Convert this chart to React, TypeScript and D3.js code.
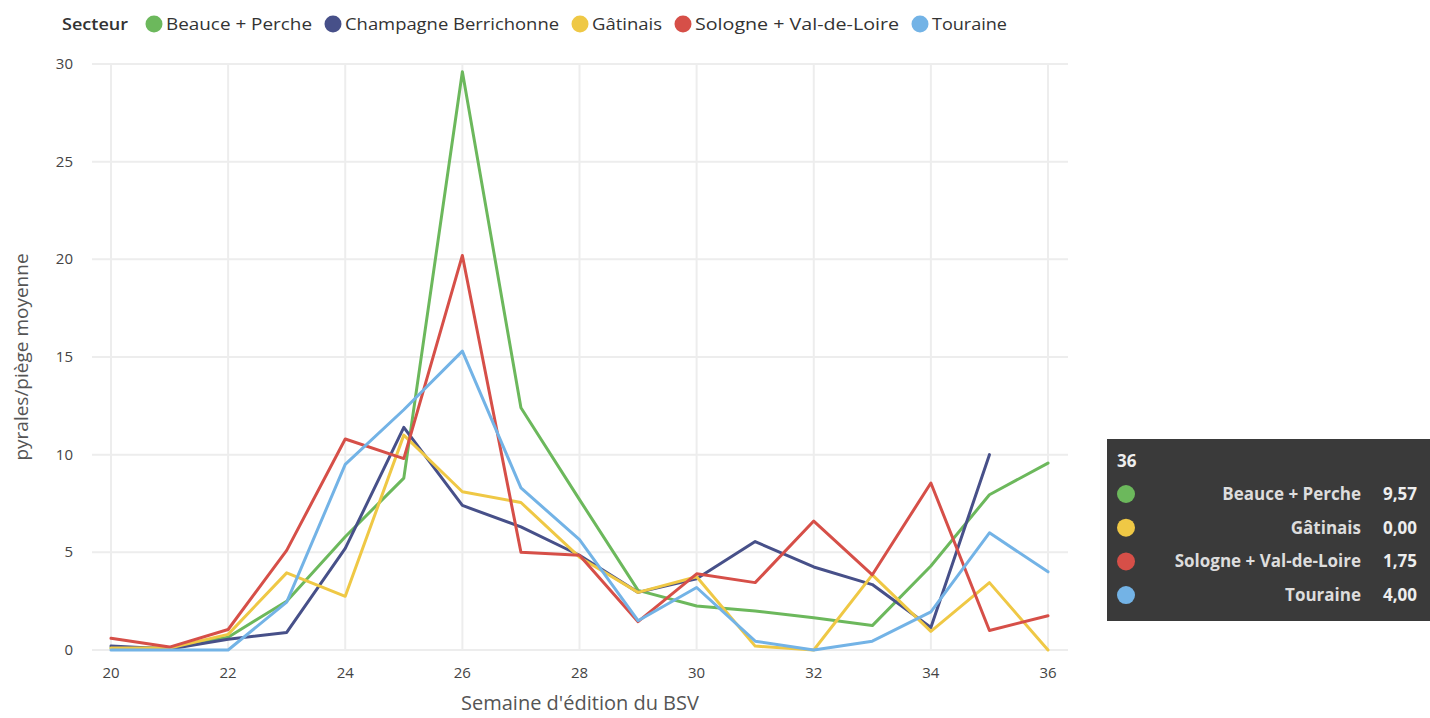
import * as d3 from "d3";
import { useRef, useEffect } from "react";

const weeks = [20, 21, 22, 23, 24, 25, 26, 27, 28, 29, 30, 31, 32, 33, 34, 35, 36];

const seriesNames = ["Beauce + Perche", "Champagne Berrichonne", "Gâtinais", "Sologne + Val-de-Loire", "Touraine"];
const seriesColors = ["#6CB85C", "#475089", "#EFC845", "#D64F48", "#73B3E6"];

const beauce = [0.1, 0.1, 0.65, 2.5, 5.8, 8.8, 29.6, 12.4, 7.7, 3.05, 2.25, 2.0, 1.65, 1.25, 4.3, 7.95, 9.57];
const champagne = [0.2, 0.05, 0.55, 0.9, 5.2, 11.4, 7.4, 6.3, 4.85, 2.95, 3.65, 5.55, 4.25, 3.35, 1.15, 10.0, null];
const gatinais = [0.1, 0.1, 0.8, 3.95, 2.75, 11.0, 8.1, 7.55, 4.75, 2.95, 3.75, 0.2, 0.0, 3.85, 0.95, 3.45, 0.0];
const sologne = [0.6, 0.15, 1.05, 5.1, 10.8, 9.8, 20.2, 5.0, 4.85, 1.45, 3.9, 3.45, 6.6, 3.85, 8.55, 1.0, 1.75];
const touraine = [0.0, 0.0, 0.0, 2.45, 9.5, 12.3, 15.3, 8.3, 5.65, 1.5, 3.2, 0.45, 0.0, 0.45, 1.95, 6.0, 4.0];

const seriesValues = [beauce, champagne, gatinais, sologne, touraine];

const xTicks = [20, 22, 24, 26, 28, 30, 32, 34, 36];
const yTicks = [0, 5, 10, 15, 20, 25, 30];

const tooltipWeek = "36";
const tooltipNames = ["Beauce + Perche", "Gâtinais", "Sologne + Val-de-Loire", "Touraine"];
const tooltipValues = ["9,57", "0,00", "1,75", "4,00"];
const tooltipColors = ["#6CB85C", "#EFC845", "#D64F48", "#73B3E6"];

const width = 1430;
const height = 718;
const font = "'Open Sans', 'Noto Sans', sans-serif";

export default function App() {
  const legendRef = useRef<SVGGElement>(null);

  const x = d3.scaleLinear().domain([20, 36]).range([111, 1048]);
  const y = d3.scaleLinear().domain([0, 30]).range([650, 64]);

  const line = d3.line<number | null>()
    .defined(d => d !== null)
    .x((_, i) => x(weeks[i]))
    .y(d => y(d as number));

  useEffect(() => {
    if (!legendRef.current) return;
    const g = d3.select(legendRef.current);
    g.selectAll("*").remove();
    g.append("text")
      .attr("x", 62).attr("y", 30)
      .attr("font-size", 16).attr("font-weight", 600)
      .attr("fill", "#333")
      .attr("font-family", font)
      .attr("textLength", 66).attr("lengthAdjust", "spacingAndGlyphs")
      .text("Secteur");
    // legend entries packed left to right, ends
    let cx = 154;
    const ends = [333, 580, 683, 920, 1020];
    seriesNames.forEach((name, i) => {
      g.append("circle").attr("cx", cx).attr("cy", 24).attr("r", 8.5).attr("fill", seriesColors[i]);
      const tx = cx + 12;
      const avail = i < seriesNames.length - 1 ? ends[i] - 18 - tx - 3 : 75;
      g.append("text")
        .attr("x", tx).attr("y", 30)
        .attr("font-size", 16).attr("fill", "#333")
        .attr("font-family", font)
        .attr("textLength", avail).attr("lengthAdjust", "spacingAndGlyphs")
        .text(name);
      cx = ends[i];
    });
  }, []);

  return (
    <svg width={width} height={height} style={{ position: "absolute", left: 0, top: 0 }} fontFamily={font}>
      <rect width={width} height={height} fill="#fff" />
      <g ref={legendRef} />

      {yTicks.map(t => (
        <line key={"gy" + t} x1={92} x2={1068} y1={y(t)} y2={y(t)} stroke="#EDEDED" strokeWidth={2} />
      ))}
      {xTicks.map(t => (
        <line key={"gx" + t} x1={x(t)} x2={x(t)} y1={y(30)} y2={y(0)} stroke="#EDEDED" strokeWidth={2} />
      ))}

      {yTicks.map(t => (
        <text key={"ty" + t} x={73} y={y(t) + 5} textAnchor="end" fontSize={15} fill="#444">{t}</text>
      ))}
      {xTicks.map(t => (
        <text key={"tx" + t} x={x(t)} y={678} textAnchor="middle" fontSize={15} fill="#444">{t}</text>
      ))}

      <text x={580} y={710} textAnchor="middle" fontSize={20} fill="#555">Semaine d'édition du BSV</text>
      <text transform={`translate(28,357) rotate(-90)`} textAnchor="middle" fontSize={19} fill="#555">pyrales/piège moyenne</text>

      {seriesValues.map((vals, i) => (
        <path key={seriesNames[i]} d={line(vals) ?? ""} fill="none" stroke={seriesColors[i]} strokeWidth={3} strokeLinejoin="round" strokeLinecap="round" />
      ))}

      <g>
        <rect x={1107} y={439} width={323} height={182} fill="#3A3A3A" />
        <text x={1117} y={467} fontSize={17} fontWeight={700} fill="#EEE">{tooltipWeek}</text>
        {tooltipNames.map((n, i) => (
          <g key={n}>
            <circle cx={1126} cy={494 + i * 33.7} r={9} fill={tooltipColors[i]} />
            <text x={1361} y={500 + i * 33.7} textAnchor="end" fontSize={17} fontWeight={700} fill="#DDD">{n}</text>
            <text x={1417} y={500 + i * 33.7} textAnchor="end" fontSize={17} fontWeight={700} fill="#EEE">{tooltipValues[i]}</text>
          </g>
        ))}
      </g>
    </svg>
  );
}
